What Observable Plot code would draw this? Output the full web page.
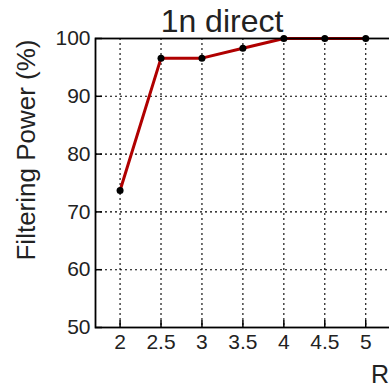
<!DOCTYPE html>
<html><head><meta charset="utf-8">
<script src="https://cdn.jsdelivr.net/npm/d3@7"></script>
<script src="https://cdn.jsdelivr.net/npm/@observablehq/plot@0.6"></script>
<style>
html,body{margin:0;padding:0;overflow:hidden;background:#fff;width:389px;height:389px}
#chart{width:389px;height:389px;overflow:hidden}
#chart svg{max-width:none !important;width:398px !important;height:389px !important;display:block}
</style>
</head><body><div id="chart"></div>
<script>
const radius = [2, 2.5, 3, 3.5, 4, 4.5, 5];
const power = [73.7, 96.6, 96.6, 98.3, 100, 100, 100];
const xTicks = [2, 2.5, 3, 3.5, 4, 4.5, 5];
const yTicks = [50, 60, 70, 80, 90, 100];
const yGrid = [60, 70, 80, 90];
const title = "1n direct";
const yLabel = "Filtering Power (%)";
const xLabel = "R";

const data = radius.map((r, i) => ({r, p: power[i]}));
const font = "'Liberation Sans', Arial, Helvetica, sans-serif";
const H = 389, mt = 38, mb = 62;
const innerH = H - mt - mb;

const chart = Plot.plot({
  width: 398, height: H,
  marginLeft: 95, marginRight: 0, marginTop: mt, marginBottom: mb,
  style: {fontFamily: font, fontSize: "21px", color: "#222", background: "#fff", overflow: "visible"},
  x: {domain: [1.7, 5.4], ticks: xTicks, tickFormat: d => String(d), label: null},
  y: {domain: [50, 100], ticks: yTicks, label: null},
  marks: [
    Plot.ruleX(xTicks, {stroke: "#000", strokeWidth: 1.1, strokeDasharray: "2,3"}),
    Plot.ruleY(yGrid, {stroke: "#000", strokeWidth: 1.1, strokeDasharray: "2,3"}),
    Plot.tickX(xTicks, {x: d => d, stroke: "#000", strokeWidth: 1.5, insetTop: innerH - 7}),
    Plot.tickY(yTicks, {y: d => d, stroke: "#000", strokeWidth: 1.5, insetRight: 303 - 7}),
    Plot.axisX({ticks: xTicks, tickSize: 0, tickPadding: 7, tickFormat: d => String(d), fontSize: 21, label: null}),
    Plot.axisY({ticks: yTicks, tickSize: 0, tickPadding: 5, fontSize: 21, label: null}),
    Plot.line(data, {x: "r", y: "p", stroke: "#b00000", strokeWidth: 3}),
    Plot.dot(data, {x: "r", y: "p", fill: "#000", r: 3.5}),
    Plot.frame({stroke: "#000", strokeWidth: 1.8})
  ]
});

const svg = d3.select(chart);
svg.append("text").attr("x", 222).attr("y", 32).attr("text-anchor", "middle")
  .attr("font-size", 32).attr("font-family", font).attr("fill", "#222").text(title);
svg.append("text").attr("transform", "translate(35,150) rotate(-90)").attr("text-anchor", "middle")
  .attr("font-size", 26).attr("font-family", font).attr("fill", "#222").text(yLabel);
svg.append("text").attr("x", 371).attr("y", 383).attr("text-anchor", "start")
  .attr("font-size", 25).attr("font-family", font).attr("fill", "#222").text(xLabel);

document.getElementById("chart").appendChild(chart);
</script>
</body></html>
